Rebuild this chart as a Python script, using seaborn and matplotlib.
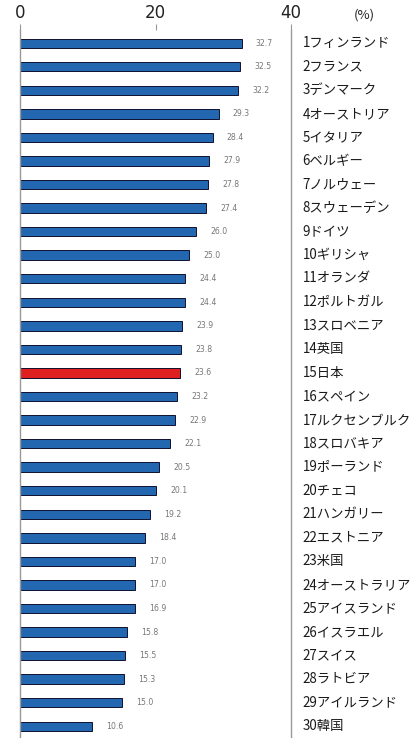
import pandas as pd
import seaborn as sns
import matplotlib.pyplot as plt

countries = ["1フィンランド", "2フランス", "3デンマーク", "4オーストリア", "5イタリア",
             "6ベルギー", "7ノルウェー", "8スウェーデン", "9ドイツ", "10ギリシャ",
             "11オランダ", "12ポルトガル", "13スロベニア", "14英国", "15日本",
             "16スペイン", "17ルクセンブルク", "18スロバキア", "19ポーランド", "20チェコ",
             "21ハンガリー", "22エストニア", "23米国", "24オーストラリア", "25アイスランド",
             "26イスラエル", "27スイス", "28ラトビア", "29アイルランド", "30韓国"]
values = [32.7, 32.5, 32.2, 29.3, 28.4, 27.9, 27.8, 27.4, 26.0, 25.0,
          24.4, 24.4, 23.9, 23.8, 23.6, 23.2, 22.9, 22.1, 20.5, 20.1,
          19.2, 18.4, 17.0, 17.0, 16.9, 15.8, 15.5, 15.3, 15.0, 10.6]
highlight = "15日本"

df = pd.DataFrame({"country": countries, "value": values})
df["group"] = ["jp" if c == highlight else "other" for c in df["country"]]

sns.set_style("white")
plt.rcParams['font.family'] = ['Noto Sans CJK JP', 'DejaVu Sans']

fig = plt.figure(figsize=(4.16, 7.38), dpi=100)
ax = fig.add_axes([0.048, 0.0, 0.652, 0.959])

sns.barplot(ax=ax, data=df, y="country", x="value", hue="group", orient="h",
            palette={"other": "#0a66c8", "jp": "#ff0000"}, legend=False,
            width=0.4, dodge=False, edgecolor="#101030", linewidth=0.7)

for i, v in enumerate(values):
    ax.text(v + 2.1, i, f"{v:.1f}", va="center", ha="left", fontsize=5.6,
            color="#777777", family="DejaVu Sans")
    ax.text(41.7, i, countries[i], va="center", ha="left", fontsize=9.6, color="#1a1a1a",
            clip_on=False)

ax.set_xlim(0, 40)
ax.set_ylim(29.47, -0.55)
ax.xaxis.tick_top()
ax.set_xticks([0, 20, 40])
ax.set_xticklabels(["0", "20", "40"], family="DejaVu Sans")
ax.tick_params(axis="x", length=4, color="#999999", labelsize=12, pad=2, labelcolor="#222222")
ax.set_yticks([i + 0.5 for i in range(len(values))], minor=True)
ax.set_yticks([])
ax.tick_params(axis="y", which="minor", length=3, direction="in", color="#aaaaaa", width=0.6)
ax.set_xlabel("")
ax.set_ylabel("")
ax.spines["top"].set_visible(False)
ax.spines["bottom"].set_visible(False)
for s in ["left", "right"]:
    ax.spines[s].set_color("#999999")
    ax.spines[s].set_linewidth(1.0)

fig.text(0.875, 0.979, "(%)", ha="center", va="center", fontsize=9.5, color="#222222")

fig.savefig("out.png", dpi=100)
